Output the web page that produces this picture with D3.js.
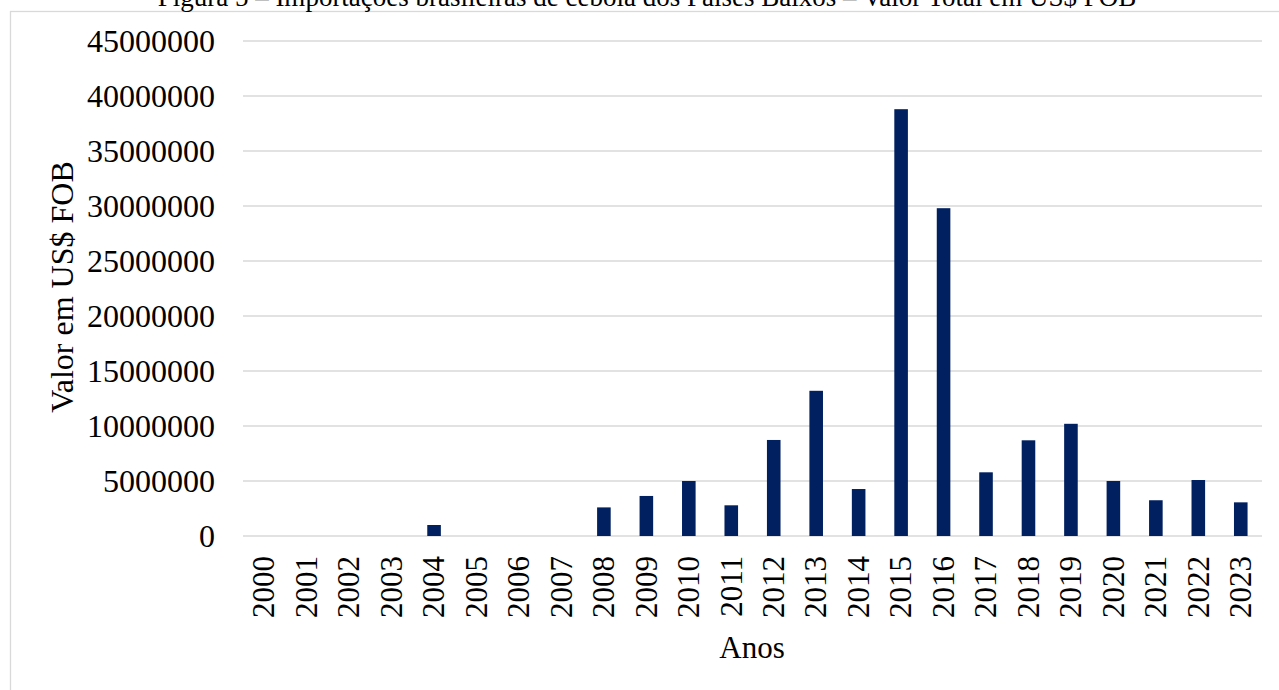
<!DOCTYPE html>
<html>
<head>
<meta charset="utf-8">
<script src="https://cdn.jsdelivr.net/npm/d3@7"></script>
<style>
  html, body { margin: 0; padding: 0; background: #fff; overflow: hidden; }
  svg { display: block; font-family: "Liberation Serif", "Times New Roman", serif; }
</style>
</head>
<body>
<svg id="chart" width="1279" height="690"></svg>
<script>
// Brazilian onion imports from the Netherlands, total value in US$ FOB
const years = ["2000","2001","2002","2003","2004","2005","2006","2007","2008","2009","2010","2011",
               "2012","2013","2014","2015","2016","2017","2018","2019","2020","2021","2022","2023"];
const values = [0, 0, 0, 0, 1000000, 0, 0, 0, 2600000, 3640000, 5000000, 2790000,
                8730000, 13200000, 4270000, 38800000, 29800000, 5790000, 8700000, 10200000,
                5000000, 3250000, 5090000, 3060000];
const yTicks = [0, 5000000, 10000000, 15000000, 20000000, 25000000, 30000000, 35000000, 40000000, 45000000];

const titleText = "Figura 5 – Importações brasileiras de cebola dos Países Baixos – Valor Total em US$ FOB";
const yTitle = "Valor em US$ FOB";
const xTitle = "Anos";

const svg = d3.select("#chart");
const margin = { left: 243, right: 17, top: 41, bottom: 154 };
const W = 1279, H = 690;

// Chart area frame
svg.append("rect")
  .attr("x", 10.5).attr("y", 11.5)
  .attr("width", 1300).attr("height", 800)
  .attr("fill", "none").attr("stroke", "#d9d9d9").attr("stroke-width", 1.3);

// Figure caption
svg.append("text")
  .attr("x", 647).attr("y", 6)
  .attr("text-anchor", "middle")
  .attr("font-size", 27)
  .attr("fill", "#000")
  .text(titleText);

const x = d3.scaleBand()
  .domain(years)
  .range([margin.left, W - margin.right])
  .paddingInner(0.68)
  .paddingOuter(0.34);

const y = d3.scaleLinear()
  .domain([0, 45000000])
  .range([H - margin.bottom, margin.top]);

// Horizontal gridlines
svg.append("g")
  .selectAll("line")
  .data(yTicks)
  .join("line")
  .attr("x1", margin.left).attr("x2", W - margin.right)
  .attr("y1", d => y(d)).attr("y2", d => y(d))
  .attr("stroke", "#d9d9d9").attr("stroke-width", 1.4);

// Y axis labels
const yAxis = d3.axisLeft(y).tickValues(yTicks).tickSize(0).tickPadding(28)
  .tickFormat(d3.format("d"));
svg.append("g")
  .attr("transform", `translate(${margin.left},0)`)
  .call(yAxis)
  .call(g => g.select(".domain").remove())
  .call(g => g.selectAll("text")
    .attr("font-size", 32)
    .attr("font-family", "Liberation Serif, Times New Roman, serif")
    .attr("fill", "#000"));

// Bars
svg.append("g")
  .selectAll("rect")
  .data(years.map((yr, i) => ({ yr, v: values[i] })))
  .join("rect")
  .attr("x", d => x(d.yr))
  .attr("width", x.bandwidth())
  .attr("y", d => y(d.v))
  .attr("height", d => y(0) - y(d.v))
  .attr("fill", "#002060");

// X axis labels (rotated)
const xAxis = d3.axisBottom(x).tickSize(0).tickPadding(0);
svg.append("g")
  .attr("transform", `translate(0,${y(0)})`)
  .call(xAxis)
  .call(g => g.select(".domain").remove())
  .call(g => g.selectAll("text")
    .attr("font-size", 31)
    .attr("font-family", "Liberation Serif, Times New Roman, serif")
    .attr("fill", "#000")
    .attr("text-anchor", "end")
    .attr("transform", "rotate(-90)")
    .attr("x", -20)
    .attr("y", 0)
    .attr("dy", "0.33em"));

// Axis titles
svg.append("text")
  .attr("x", 752).attr("y", 658)
  .attr("text-anchor", "middle")
  .attr("font-size", 31)
  .attr("fill", "#000")
  .text(xTitle);

svg.append("text")
  .attr("transform", "translate(73,287) rotate(-90)")
  .attr("text-anchor", "middle")
  .attr("font-size", 32)
  .attr("fill", "#000")
  .text(yTitle);
</script>
</body>
</html>
